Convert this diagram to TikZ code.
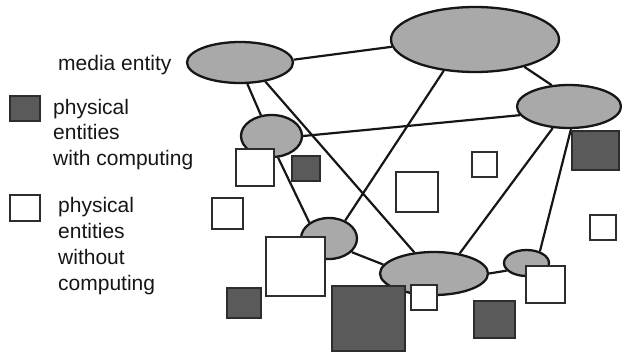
\documentclass[tikz,border=0pt]{standalone}
\usepackage{fontspec}
\setmainfont{Liberation Sans}
\usetikzlibrary{shapes.geometric}
\definecolor{inkc}{HTML}{161616}
\definecolor{entfill}{HTML}{A9A9A9}
\definecolor{compfill}{HTML}{5A5A5A}
\tikzset{
  media/.style={ellipse, draw=inkc, line width=2.3pt, fill=entfill, inner sep=0pt},
  link/.style={draw=inkc, line width=2.2pt},
  physbox/.style={rectangle, draw=inkc!90, line width=2.3pt, inner sep=0pt},
  withcomp/.style={physbox, fill=compfill},
  nocomp/.style={physbox, fill=white},
  legtext/.style={font=\fontsize{21}{25.5}\selectfont, text=inkc, inner sep=0pt, align=left}
}
% box from corner (x1,y1) to (x2,y2), given in picture units
\newcommand{\physent}[6]{%
  \node[#1, minimum width=#4-#2, minimum height=#5-#3] (#6) at ({(#2+#4)/2},{(#3+#5)/2}) {};}
\begin{document}
\begin{tikzpicture}[x=1pt, y=-1pt]
\useasboundingbox (0,0) rectangle (622,356);

% media entities
\node[media, minimum width=106pt, minimum height=41pt] (me) at (240,62.5) {};
\node[media, minimum width=168pt, minimum height=65pt] (tb) at (475,39.5) {};
\node[media, minimum width=104pt, minimum height=43pt] (rt) at (569,106.5) {};
\node[media, minimum width=61pt, minimum height=42pt] (ml) at (271.5,136) {};
\node[media, minimum width=56pt, minimum height=41pt] (lm) at (329,238.5) {};
\node[media, minimum width=108pt, minimum height=43pt] (bb) at (434,273.5) {};
\node[media, minimum width=45pt, minimum height=26pt] (sr) at (526.5,263) {};

% links between media entities
\draw[link] (me.3) -- (tb.185);
\draw[link] (tb.-29) -- (rt.129);
\draw[link] (tb.-135) -- (lm.48);
\draw[link] (me.-71) -- (ml.117);
\draw[link] (me.-37) -- (bb.133);
\draw[link] (ml.0) -- (rt.-170);
\draw[link] (ml.-73) -- (lm.141);
\draw[link] (rt.-127) -- (bb.38);
\draw[link] (rt.-85) -- (sr.41);
\draw[link] (lm.-31) -- (bb.170);
\draw[link] (bb.0) -- (sr.-159);

% physical entities
\physent{nocomp}{236}{149}{274}{186}{p1}
\physent{withcomp}{292}{156}{320}{181}{p2}
\physent{nocomp}{212}{198}{243}{229}{p3}
\physent{nocomp}{396}{172}{438}{212}{p4}
\physent{nocomp}{472}{152}{497}{177}{p5}
\physent{withcomp}{572}{131}{619}{170}{p6}
\physent{nocomp}{590}{215}{616}{240}{p7}
\physent{nocomp}{266}{237}{325}{296}{p8}
\physent{withcomp}{227}{288}{261}{318}{p9}
\physent{withcomp}{332}{286}{405}{351}{p10}
\physent{nocomp}{411}{285}{437}{310}{p11}
\physent{withcomp}{474}{301}{515}{338}{p12}
\physent{nocomp}{526}{266}{565}{303}{p13}

% legend (multi-line texts are placed by the baseline of their last line)
\node[legtext, anchor=base west] (lmedia) at (58,70) {media entity};
\physent{withcomp}{10}{96}{40}{121}{kwith}
\node[legtext, anchor=base west] (lwith) at (53,165) {physical\\entities\\with computing};
\physent{nocomp}{10}{195}{40}{221}{kwithout}
\node[legtext, anchor=base west, font=\fontsize{21}{26}\selectfont] (lwithout) at (58,290) {physical\\entities\\without\\computing};
\end{tikzpicture}
\end{document}
